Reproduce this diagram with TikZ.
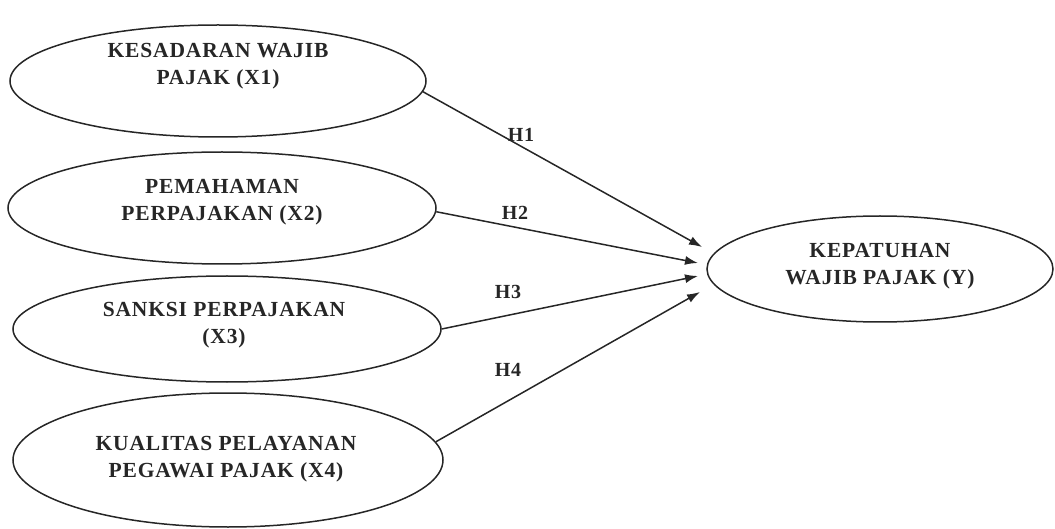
\documentclass[tikz,border=0pt]{standalone}
\usepackage{fontspec}
\setmainfont{Liberation Serif}
\newfontfamily\spaced[LetterSpace=4]{Liberation Serif}
\usetikzlibrary{shapes.geometric,arrows.meta}
\tikzset{
  var/.style={draw=black!85, line width=1.5pt, ellipse, inner sep=0pt},
  vtxt/.style={align=center, font=\spaced\fontsize{21.5}{27}\selectfont\bfseries, text=black!85, inner sep=0pt},
  hlab/.style={font=\spaced\fontsize{20}{22}\selectfont\bfseries, text=black!85, inner sep=0pt},
  link/.style={line width=1.5pt, draw=black!85, -{Latex[length=13pt,width=9pt]}}
}
\begin{document}
\begin{tikzpicture}[x=1pt,y=-1pt]
\useasboundingbox (0,0) rectangle (1055,529);
% ellipses
\node[var, minimum width=416pt, minimum height=112pt] (e1) at (218,81) {};
\node[var, minimum width=428pt, minimum height=112pt] (e2) at (222,208) {};
\node[var, minimum width=428pt, minimum height=106pt] (e3) at (227,329) {};
\node[var, minimum width=430pt, minimum height=134pt] (e4) at (228,460) {};
\node[var, minimum width=346pt, minimum height=106pt] (y) at (880,269) {};
% texts
\node[vtxt] (t1) at (218,66) {KESADARAN WAJIB\\PAJAK (X1)};
\node[vtxt] (t2) at (222,202) {PEMAHAMAN\\PERPAJAKAN (X2)};
\node[vtxt] (t3) at (224,325) {SANKSI PERPAJAKAN\\(X3)};
\node[vtxt] (t4) at (226,459) {KUALITAS PELAYANAN\\PEGAWAI PAJAK (X4)};
\node[vtxt] (ty) at (880,266) {KEPATUHAN\\WAJIB PAJAK (Y)};
% arrow ends
\coordinate (p1) at (702,247);
\coordinate (p2) at (698,263);
\coordinate (p3) at (698,276);
\coordinate (p4) at (700,292);
\draw[link] (e1.-3.4) -- (p1);
\draw[link] (e2.-1) -- (p2);
\draw[link] (e3.0.5) -- (p3);
\draw[link] (e4.5) -- (p4);
% labels
\node[hlab] (h1) at (521,135) {H1};
\node[hlab] (h2) at (515,213) {H2};
\node[hlab] (h3) at (508,292) {H3};
\node[hlab] (h4) at (508,370) {H4};
\end{tikzpicture}
\end{document}
